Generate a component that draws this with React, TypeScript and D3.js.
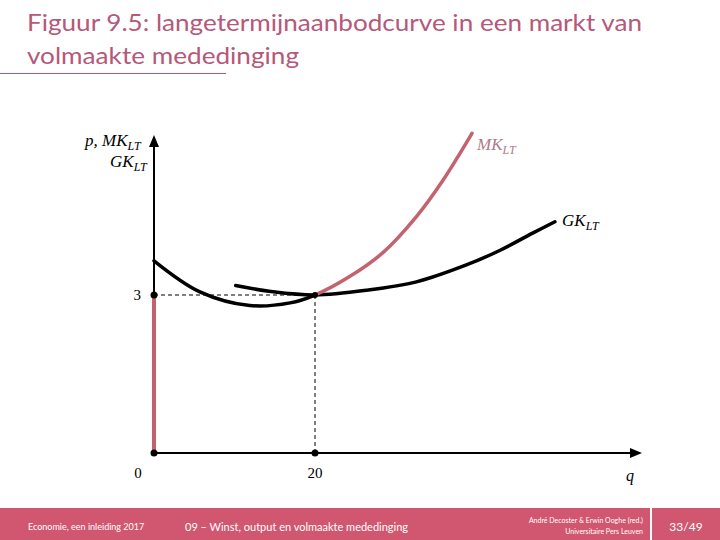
import React from "react";
import * as d3 from "d3";

// ---- data (q, p) ----
const mkQ = [0, 5.7, 11.9, 16.9, 20, 24.3, 28.4, 32.6, 35.9, 39.5];
const mkP = [3.65, 3.06, 2.8, 2.85, 3.0, 3.35, 3.8, 4.49, 5.18, 6.07];
const gkQ = [10.15, 14.8, 20, 26.4, 32.6, 38.8, 43.0, 47.1, 49.8];
const gkP = [3.18, 3.06, 3.0, 3.09, 3.25, 3.57, 3.85, 4.18, 4.39];
const equilibriumQ = 20;
const equilibriumP = 3;
const xTicks = [0, 20];
const yTicks = [3];

const TITLE1 = "Figuur 9.5: langetermijnaanbodcurve in een markt van";
const TITLE2 = "volmaakte mededinging";

const PINK = "#b5587a";
const RED = "#c4636f";
const FOOT = "#d0576f";

export default function App() {
  const x = d3.scaleLinear().domain([0, 20]).range([154, 315]);
  const y = d3.scaleLinear().domain([0, 3]).range([453, 295]);
  const line = d3
    .line<[number, number]>()
    .x((d) => x(d[0]))
    .y((d) => y(d[1]))
    .curve(d3.curveCatmullRom.alpha(0.5));
  const mk = mkQ.map((q, i) => [q, mkP[i]] as [number, number]);
  const gk = gkQ.map((q, i) => [q, gkP[i]] as [number, number]);
  const x0 = x(0);
  const y0 = y(0);
  const xe = x(equilibriumQ);
  const ye = y(equilibriumP);
  const xEnd = 642;
  const yTop = 135;
  const serif = "'Liberation Serif', 'DejaVu Serif', serif";
  return (
    <svg
      width={720}
      height={540}
      style={{ position: "absolute", left: 0, top: 0, background: "#fff" }}
      fontFamily="Lato, 'Open Sans', sans-serif"
    >
      <defs>
        <clipPath id="left">
          <rect x={0} y={0} width={xe} height={540} />
        </clipPath>
        <clipPath id="right">
          <rect x={xe} y={0} width={720 - xe} height={540} />
        </clipPath>
      </defs>
      {/* title */}
      <text x={27} y={31} fontSize={24} fill={PINK} textLength={615} lengthAdjust="spacingAndGlyphs">
        {TITLE1}
      </text>
      <text x={27} y={64} fontSize={24} fill={PINK} textLength={272} lengthAdjust="spacingAndGlyphs">
        {TITLE2}
      </text>
      <line x1={0} x2={226} y1={73.5} y2={73.5} stroke={PINK} strokeWidth={1} />

      {/* dashed guides */}
      <line x1={x0} x2={xe} y1={ye} y2={ye} stroke="#000" strokeWidth={1} strokeDasharray="4,3" />
      <line x1={xe} x2={xe} y1={ye} y2={y0} stroke="#000" strokeWidth={1} strokeDasharray="4,3" />

      {/* axes */}
      <line x1={x0} x2={x0} y1={y0} y2={yTop + 10} stroke="#000" strokeWidth={2} />
      <path d={`M${x0 - 5},${yTop + 12} L${x0},${yTop} L${x0 + 5},${yTop + 12} Z`} fill="#000" />
      <line x1={x0} x2={xEnd - 10} y1={y0} y2={y0} stroke="#000" strokeWidth={2} />
      <path d={`M${xEnd - 12},${y0 - 5} L${xEnd},${y0} L${xEnd - 12},${y0 + 5} Z`} fill="#000" />

      {/* supply: vertical red segment */}
      <line x1={x0} x2={x0} y1={y0} y2={ye} stroke={RED} strokeWidth={4} />

      {/* curves */}
      <path d={line(gk) || ""} fill="none" stroke="#000" strokeWidth={3.5} strokeLinecap="round" />
      <path d={line(mk) || ""} fill="none" stroke="#000" strokeWidth={3.5} strokeLinecap="round" clipPath="url(#left)" />
      <path d={line(mk) || ""} fill="none" stroke={RED} strokeWidth={3.5} strokeLinecap="round" clipPath="url(#right)" />

      {/* dots */}
      <circle cx={x0} cy={ye} r={3.5} fill="#000" />
      <circle cx={x0} cy={y0} r={3.5} fill="#000" />
      <circle cx={xe} cy={y0} r={3.5} fill="#000" />
      <circle cx={xe} cy={ye} r={3} fill="#000" />

      {/* tick labels */}
      {yTicks.map((t) => (
        <text key={"y" + t} x={141} y={y(t) + 5} fontSize={15} fontFamily={serif} textAnchor="end">
          {t}
        </text>
      ))}
      {xTicks.map((t) => (
        <text key={"x" + t} x={t === 0 ? 138 : x(t)} y={478} fontSize={15} fontFamily={serif} textAnchor="middle">
          {t}
        </text>
      ))}
      <text x={630} y={481} fontSize={16} fontFamily={serif} fontStyle="italic" textAnchor="middle">q</text>

      {/* axis labels */}
      <text x={85} y={146} fontSize={17} fontFamily={serif} fontStyle="italic">
        p, MK<tspan fontSize={12} dy={4}>LT</tspan>
      </text>
      <text x={110} y={167} fontSize={17} fontFamily={serif} fontStyle="italic">
        GK<tspan fontSize={12} dy={4}>LT</tspan>
      </text>
      <text x={477} y={150} fontSize={17} fontFamily={serif} fontStyle="italic" fill="#b07a88">
        MK<tspan fontSize={12} dy={4}>LT</tspan>
      </text>
      <text x={562} y={226} fontSize={17} fontFamily={serif} fontStyle="italic" fill="#000">
        GK<tspan fontSize={12} dy={4}>LT</tspan>
      </text>

      {/* footer */}
      <rect x={0} y={508} width={720} height={32} fill={FOOT} />
      <line x1={651} x2={651} y1={508} y2={540} stroke="#fff" strokeWidth={2} />
      <text x={28} y={530} fontSize={9} fill="#fff">Economie, een inleiding 2017</text>
      <text x={185} y={531} fontSize={11} fill="#fff">09 – Winst, output en volmaakte mededinging</text>
      <text x={643} y={523} fontSize={7} fill="#fff" textAnchor="end">André Decoster &amp; Erwin Ooghe (red.)</text>
      <text x={643} y={534} fontSize={7} fill="#fff" textAnchor="end">Universitaire Pers Leuven</text>
      <text x={686} y={531} fontSize={12} fill="#fff" textAnchor="middle">33/49</text>
    </svg>
  );
}
